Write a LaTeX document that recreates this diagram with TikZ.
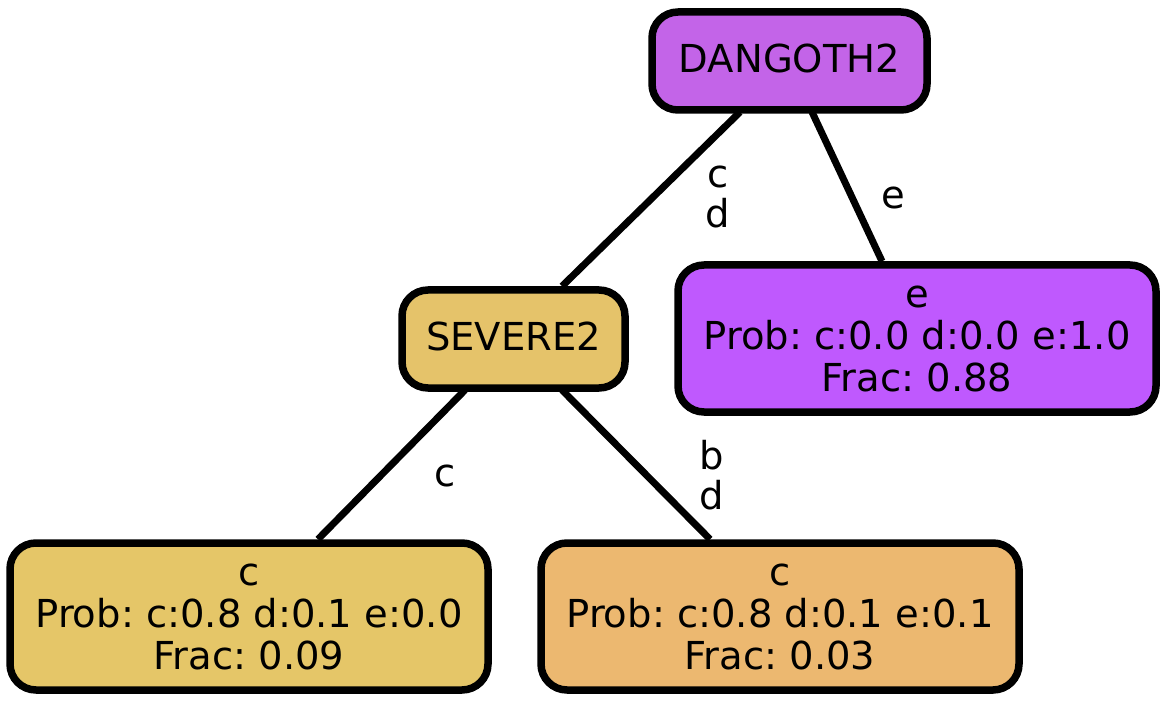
\documentclass[tikz,border=0pt]{standalone}
\usepackage{fontspec}
\setmainfont{DejaVu Sans}
\frenchspacing
\begin{document}
\begin{tikzpicture}[x=1pt,y=-1pt,
  box/.style={draw=black,line width=7.5pt,rounded corners=26pt,inner sep=0pt,align=center,
    font=\fontsize{38.5}{42}\selectfont},
  lbl/.style={font=\fontsize{38.5}{40}\selectfont,align=center,inner sep=0pt},
  edge/.style={line width=7pt}]
\useasboundingbox (0,0) rectangle (1167,703);
\definecolor{cdang}{HTML}{C364E8}
\definecolor{csev}{HTML}{E5C36A}
\definecolor{ce}{HTML}{BF59FE}
\definecolor{cl}{HTML}{E5C668}
\definecolor{cr}{HTML}{ECB870}
\node[box,fill=cdang,minimum width=275pt,minimum height=98pt] (dang) at (789.5,61) {\raisebox{5pt}{DANGOTH2}};
\node[box,fill=csev,minimum width=223pt,minimum height=98pt] (sev) at (513.5,339) {\raisebox{5pt}{SEVERE2}};
\node[box,fill=ce,minimum width=478pt,minimum height=147pt] (e) at (917,338.5) {e\\Prob: c:0.0 d:0.0 e:1.0\\Frac: 0.88};
\node[box,fill=cl,minimum width=478pt,minimum height=147pt] (cl) at (249,616.5) {c\\Prob: c:0.8 d:0.1 e:0.0\\Frac: 0.09};
\node[box,fill=cr,minimum width=478pt,minimum height=147pt] (cr) at (780,616.5) {c\\Prob: c:0.8 d:0.1 e:0.1\\Frac: 0.03};
\coordinate (d1) at (740,112);
\coordinate (d2) at (812,112);
\coordinate (s1) at (465,390);
\coordinate (s2) at (562,390);
\draw[edge] (d1) -- (sev.north -| 562,0);
\draw[edge] (d2) -- (e.north -| 882,0);
\draw[edge] (s1) -- (cl.north -| 318,0);
\draw[edge] (s2) -- (cr.north -| 710,0);
\node[lbl] (l1) at (718,197) {c\\d};
\node[lbl] (l2) at (893,198) {e};
\node[lbl] (l3) at (445,476) {c};
\node[lbl] (l4) at (712,475) {b\\d};
\end{tikzpicture}
\end{document}
